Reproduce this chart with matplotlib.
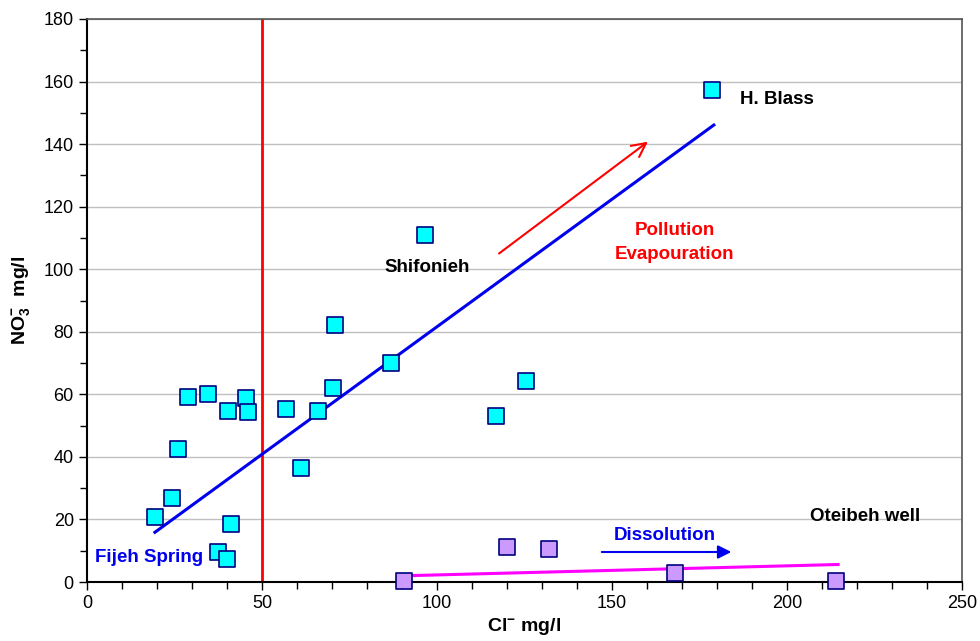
import matplotlib
matplotlib.use("Agg")
import matplotlib.pyplot as plt
from matplotlib.ticker import MultipleLocator

plt.rcParams['font.family'] = ['Liberation Sans', 'DejaVu Sans']
plt.rcParams['mathtext.fontset'] = 'custom'
plt.rcParams['mathtext.rm'] = 'Liberation Sans'
plt.rcParams['mathtext.bf'] = 'Liberation Sans:bold'

# Data
fijeh_cl = [19.4, 24.3, 26.0, 28.9, 34.6, 40.3, 45.4, 46.0, 41.1, 37.4, 40.0,
            56.9, 66.0, 61.1, 70.3, 70.9, 86.9, 96.6, 116.9, 125.4, 178.6]
fijeh_no3 = [20.8, 26.8, 42.6, 59.3, 60.2, 54.8, 58.8, 54.5, 18.6, 9.6, 7.4,
             55.2, 54.8, 36.3, 62.0, 82.2, 70.0, 111.0, 53.0, 64.3, 157.4]
oteibeh_cl = [90.6, 120.0, 132.0, 168.0, 214.0]
oteibeh_no3 = [0.3, 11.3, 10.5, 2.8, 0.2]
trend_fijeh_x = [19.4, 179.1]
trend_fijeh_y = [15.9, 146.1]
trend_oteibeh_x = [90.6, 214.6]
trend_oteibeh_y = [2.0, 5.6]
cl_limit = 50

fig = plt.figure(figsize=(9.8, 6.41), dpi=100)
ax = fig.add_axes([0.0888, 0.092, 0.8928, 0.8784])

ax.set_xlim(0, 250)
ax.set_ylim(0, 180)
ax.xaxis.set_major_locator(MultipleLocator(50))
ax.xaxis.set_minor_locator(MultipleLocator(10))
ax.yaxis.set_major_locator(MultipleLocator(20))
ax.yaxis.set_minor_locator(MultipleLocator(10))
ax.grid(axis='y', which='major', color='#c0c0c0', linewidth=1)
ax.set_axisbelow(True)
ax.tick_params(which='both', direction='out', labelsize=13, color='black', width=1)
ax.tick_params(which='major', length=6)
ax.tick_params(which='minor', length=5)
for s in ['left', 'bottom']:
    ax.spines[s].set_color('black')
    ax.spines[s].set_linewidth(1.5)
for s in ['top', 'right']:
    ax.spines[s].set_color('#555555')
    ax.spines[s].set_linewidth(1.2)

ax.axvline(cl_limit, color='red', linewidth=2)
ax.plot(trend_fijeh_x, trend_fijeh_y, color='#0000ee', linewidth=2.2)
ax.plot(trend_oteibeh_x, trend_oteibeh_y, color='#ff00ff', linewidth=2.2)

ax.scatter(fijeh_cl, fijeh_no3, marker='s', s=120, facecolor='#00ffff',
           edgecolor='#000080', linewidth=1.2, zorder=5)
ax.scatter(oteibeh_cl, oteibeh_no3, marker='s', s=120, facecolor='#cc99ff',
           edgecolor='#000080', linewidth=1.2, zorder=5, clip_on=False)

ax.annotate('', xy=(160.9, 141.3), xytext=(117.1, 104.5),
            arrowprops=dict(arrowstyle='->', color='red', lw=1.5, mutation_scale=25))
ax.annotate('', xy=(184.9, 9.6), xytext=(146.3, 9.6),
            arrowprops=dict(arrowstyle='-|>', color='#0000ee', lw=1.5, mutation_scale=20))

fs = 13.5
ax.text(2.3, 7.8, 'Fijeh Spring', color='#0000ee', fontsize=fs, fontweight='bold', va='center')
ax.text(97.3, 100.4, 'Shifonieh', color='black', fontsize=fs, fontweight='bold', ha='center', va='center')
ax.text(186.6, 154.4, 'H. Blass', color='black', fontsize=fs, fontweight='bold', va='center')
ax.text(168.0, 112.4, 'Pollution', color='red', fontsize=fs, fontweight='bold', ha='center', va='center')
ax.text(168.0, 104.8, 'Evapouration', color='red', fontsize=fs, fontweight='bold', ha='center', va='center')
ax.text(165.1, 15.0, 'Dissolution', color='#0000ee', fontsize=fs, fontweight='bold', ha='center', va='center')
ax.text(222.3, 20.8, 'Oteibeh well', color='black', fontsize=fs, fontweight='bold', ha='center', va='center')

ax.set_xlabel(r'$\mathbf{Cl^{-}}$ mg/l', fontsize=14, fontweight='bold', labelpad=3)
ax.set_ylabel(r'$\mathbf{NO_3^{-}}$  mg/l', fontsize=14, fontweight='bold', labelpad=8)

fig.savefig('out.png', dpi=100)
